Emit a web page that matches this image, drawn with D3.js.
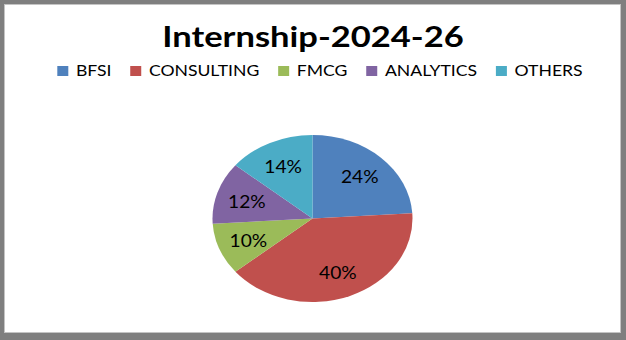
<!DOCTYPE html>
<html>
<head>
<meta charset="utf-8">
<script src="https://cdn.jsdelivr.net/npm/d3@7"></script>
<style>
  html, body { margin: 0; padding: 0; background: #7f7f7f; }
  svg { display: block; }
</style>
</head>
<body>
<div id="chart"></div>
<script>
const title = "Internship-2024-26";
const categories = ["BFSI", "CONSULTING", "FMCG", "ANALYTICS", "OTHERS"];
const shares = [24, 40, 10, 12, 14];
const palette = ["#4f81bd", "#c0504d", "#9bbb59", "#8064a2", "#4bacc6"];

const width = 626, height = 340;
const cx = 312.5, cy = 218.5, rx = 100, ry = 83.5;
// the reference is stretched horizontally, so text gets a small x-scale too
const titleStretch = 1.19, textStretch = 1.1;

const svg = d3.select("#chart").append("svg")
    .attr("width", width)
    .attr("height", height);

// outer frame
svg.append("rect")
    .attr("x", 0).attr("y", 0)
    .attr("width", width).attr("height", height)
    .attr("fill", "#7f7f7f");
svg.append("rect")
    .attr("x", 4.5).attr("y", 4.5)
    .attr("width", 616).attr("height", 328)
    .attr("fill", "#fff")
    .attr("stroke", "#c4c4c4");

svg.append("text")
    .attr("transform", `translate(${cx + 0.5},47) scale(${titleStretch},1)`)
    .attr("text-anchor", "middle")
    .attr("font-family", "Lato, sans-serif")
    .attr("font-weight", 700)
    .attr("font-size", 29)
    .attr("fill", "#000")
    .text(title);

// legend
const legend = svg.append("g")
    .attr("font-family", "Lato, sans-serif")
    .attr("font-size", 16);
let lx = 0;
categories.forEach((c, i) => {
    const g = legend.append("g");
    g.append("rect")
        .attr("width", 10).attr("height", 10)
        .attr("y", -10)
        .attr("fill", palette[i]);
    const t = g.append("text")
        .attr("x", 17)
        .attr("fill", "#000")
        .text(c);
    const w = t.node().getComputedTextLength();
    g.attr("transform", `translate(${lx},0)`);
    lx += 17 + w + 17;
});
lx -= 17;
legend.attr("transform", `translate(${320 - lx * textStretch / 2},76) scale(${textStretch},1)`);

// pie
const pie = d3.pie().sort(null).value(d => d)
    .startAngle(0).endAngle(2 * Math.PI);
const arcs = pie(shares);
const arc = d3.arc().innerRadius(0).outerRadius(rx);
const labelArc = d3.arc().innerRadius(rx * 0.69).outerRadius(rx * 0.69);

const pg = svg.append("g")
    .attr("transform", `translate(${cx},${cy}) scale(1,${ry / rx})`);
pg.selectAll("path")
    .data(arcs)
    .join("path")
    .attr("d", arc)
    .attr("fill", (d, i) => palette[i]);

svg.append("g")
    .attr("font-family", "Lato, sans-serif")
    .attr("font-size", 17)
    .attr("text-anchor", "middle")
    .selectAll("text")
    .data(arcs)
    .join("text")
    .attr("transform", d => {
        const [px, py] = labelArc.centroid(d);
        return `translate(${cx + px},${cy + py * ry / rx}) scale(1.13,1)`;
    })
    .attr("dy", "0.4em")
    .attr("fill", "#000")
    .text(d => d.data + "%");
</script>
</body>
</html>
